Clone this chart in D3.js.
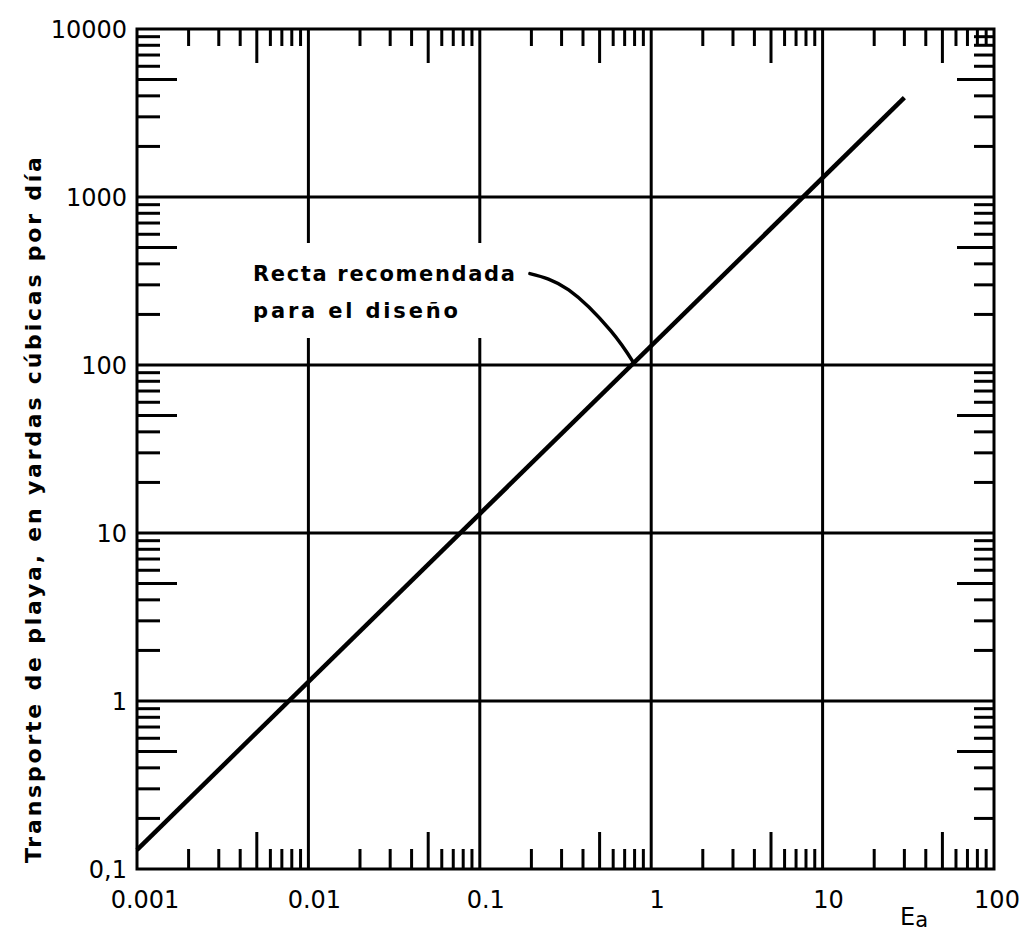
<!DOCTYPE html>
<html><head><meta charset="utf-8">
<script src="https://cdn.jsdelivr.net/npm/d3@7"></script>
<style>body{margin:0;background:#fff;}svg{display:block;}text{font-family:"DejaVu Sans",sans-serif;fill:#000;}</style>
</head><body>
<svg id="c" width="1026" height="938"></svg>
<script>
// ---- data ----
const xDecades = [0.001, 0.01, 0.1, 1, 10, 100];
const xTickLabels = ["0.001", "0.01", "0.1", "1", "10", "100"];
const yDecades = [0.1, 1, 10, 100, 1000, 10000];
const yTickLabels = ["0,1", "1", "10", "100", "1000", "10000"];
const lineX = [0.001, 30];          // E_a
const lineY = [0.13, 3900];         // yd^3/day
const annotationLines = ["Recta recomendada", "para el diseño"];
const arrowX = [0.196, 0.33, 0.58, 0.78];
const arrowY = [350, 280, 160, 105];
const yTitle = "Transporte de playa, en yardas cúbicas por día";

const svg = d3.select("#c");
const L = 137, R = 994, T = 29, B = 869;
const x = d3.scaleLog().domain([0.001, 100]).range([L, R]);
const y = d3.scaleLog().domain([0.1, 10000]).range([B, T]);

const minors = [];
xDecades.slice(0, -1).forEach(d => { for (let k = 2; k <= 9; k++) minors.push({v: d * k, k}); });
const yMinors = [];
yDecades.slice(0, -1).forEach(d => { for (let k = 2; k <= 9; k++) yMinors.push({v: d * k, k}); });
const len = k => k === 5 ? 37 : 20;

const g = svg.append("g").attr("stroke", "#000").attr("stroke-width", 3);
// horizontal grid
g.selectAll(".hg").data(yDecades.slice(1, -1)).join("line")
  .attr("x1", L).attr("x2", R).attr("y1", d => y(d)).attr("y2", d => y(d));
// vertical grid (with gaps behind annotation for 0.01 and 0.1)
const gapTop = 243, gapBot = 338;
xDecades.slice(1, -1).forEach(d => {
  if (d === 0.01 || d === 0.1) {
    g.append("line").attr("x1", x(d)).attr("x2", x(d)).attr("y1", T).attr("y2", gapTop);
    g.append("line").attr("x1", x(d)).attr("x2", x(d)).attr("y1", gapBot).attr("y2", B);
  } else {
    g.append("line").attr("x1", x(d)).attr("x2", x(d)).attr("y1", T).attr("y2", B);
  }
});
// minor ticks, inward on all sides
g.selectAll(".tb").data(minors).join("line")
  .attr("x1", d => x(d.v)).attr("x2", d => x(d.v)).attr("y1", B).attr("y2", d => B - len(d.k));
g.selectAll(".tt").data(minors).join("line")
  .attr("x1", d => x(d.v)).attr("x2", d => x(d.v)).attr("y1", T).attr("y2", d => T + len(d.k) - 3);
g.selectAll(".tl").data(yMinors).join("line")
  .attr("y1", d => y(d.v)).attr("y2", d => y(d.v)).attr("x1", L).attr("x2", d => L + len(d.k) + 3);
g.selectAll(".tr").data(yMinors).join("line")
  .attr("y1", d => y(d.v)).attr("y2", d => y(d.v)).attr("x1", R).attr("x2", d => R - len(d.k));
// frame
g.append("rect").attr("x", L).attr("y", T).attr("width", R - L).attr("height", B - T).attr("fill", "none");

// main line
svg.append("line").attr("x1", x(lineX[0])).attr("y1", y(lineY[0]))
  .attr("x2", x(lineX[1])).attr("y2", y(lineY[1]))
  .attr("stroke", "#000").attr("stroke-width", 4.5);

// annotation
const ann = svg.append("text").attr("font-size", 21).attr("font-weight", "bold");
ann.append("tspan").attr("x", 253).attr("y", 281).attr("textLength", 262).attr("lengthAdjust", "spacing").text(annotationLines[0]);
ann.append("tspan").attr("x", 253).attr("y", 318).attr("textLength", 205).attr("lengthAdjust", "spacing").text(annotationLines[1]);
const pts = arrowX.map((v, i) => [x(v), y(arrowY[i])]);
svg.append("path").attr("d", d3.line().curve(d3.curveNatural)(pts))
  .attr("fill", "none").attr("stroke", "#000").attr("stroke-width", 3.5).attr("stroke-linecap", "round");

// tick labels
svg.selectAll(".xl").data(xDecades).join("text")
  .attr("x", (d, i) => x(d) + (i === 0 ? 8 : i === xDecades.length - 1 ? 3 : 6)).attr("y", 908)
  .attr("text-anchor", "middle").attr("font-size", 24)
  .text((d, i) => xTickLabels[i]);
svg.selectAll(".yl").data(yDecades).join("text")
  .attr("x", 127).attr("y", d => y(d) + 9)
  .attr("text-anchor", "end").attr("font-size", 24)
  .text((d, i) => yTickLabels[i]);

// axis titles
const xt = svg.append("text").attr("x", 900).attr("y", 925).attr("font-size", 24);
xt.append("tspan").text("E");
xt.append("tspan").attr("dy", 2).attr("font-size", 21).text("a");
svg.append("text").attr("transform", "translate(41,510) rotate(-90)")
  .attr("text-anchor", "middle").attr("font-size", 22).attr("font-weight", "bold")
  .attr("textLength", 706).attr("lengthAdjust", "spacing").text(yTitle);
</script>
</body></html>
